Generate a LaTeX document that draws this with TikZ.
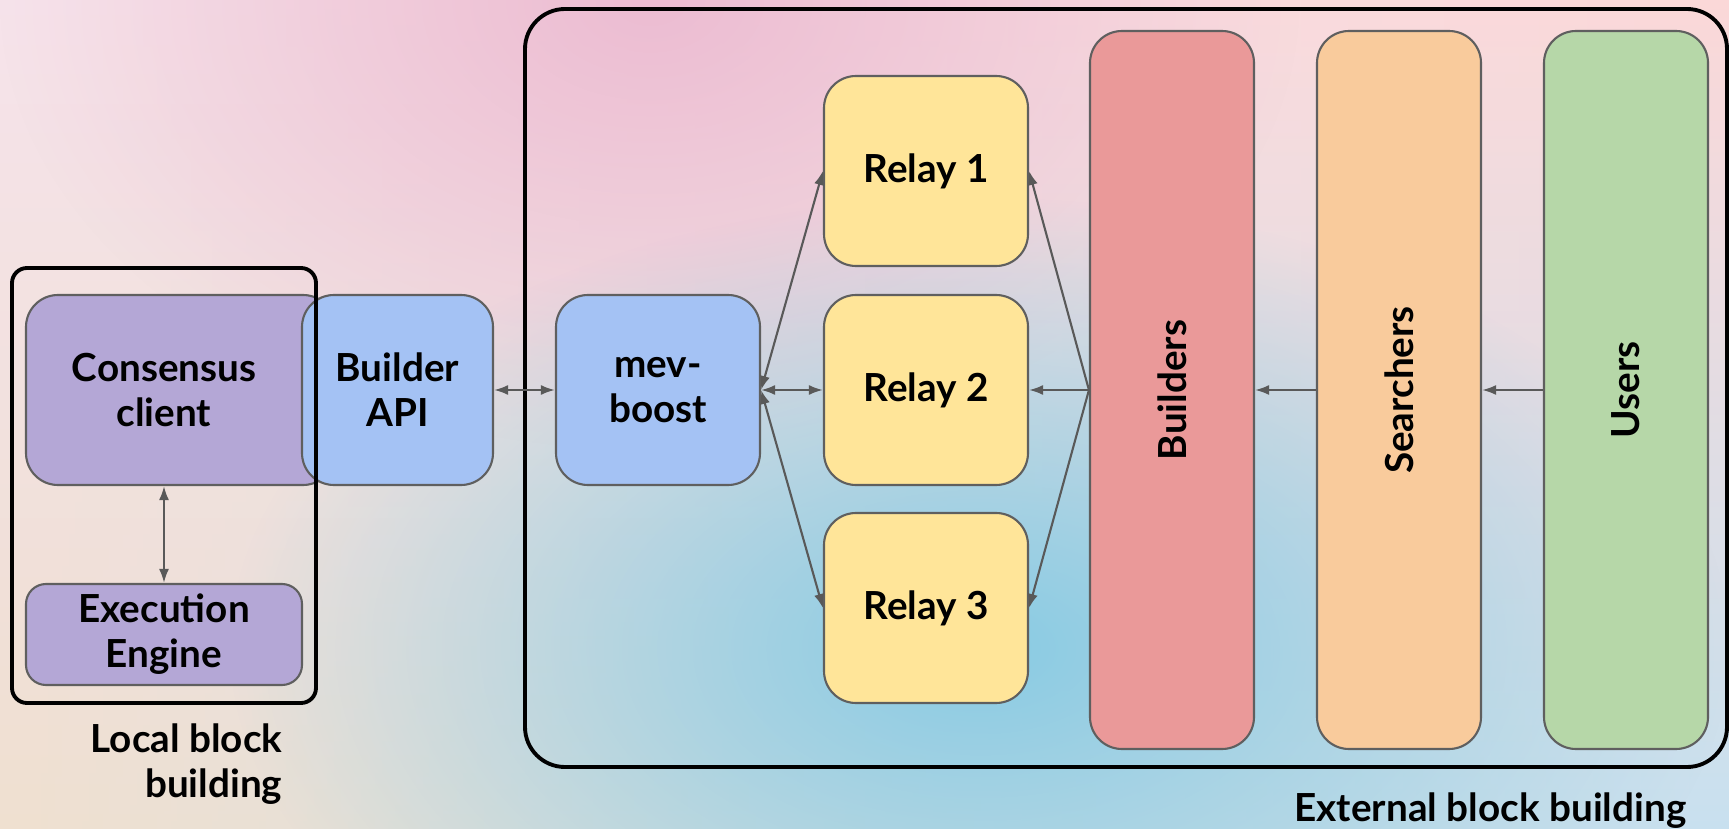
\documentclass[tikz,border=0pt]{standalone}
\usepackage{fontspec}
\setmainfont{Lato}
\usetikzlibrary{positioning,arrows.meta,fadings}

\definecolor{edgegray}{RGB}{95,95,95}
\definecolor{arrowgray}{RGB}{89,89,89}
\definecolor{purplebox}{RGB}{180,167,214}
\definecolor{bluebox}{RGB}{164,194,244}
\definecolor{yellowbox}{RGB}{255,229,153}
\definecolor{redbox}{RGB}{234,153,153}
\definecolor{orangebox}{RGB}{249,203,156}
\definecolor{greenbox}{RGB}{182,215,168}
\definecolor{bgtl}{RGB}{246,228,236}
\definecolor{bgbl}{RGB}{240,224,208}
\definecolor{bgtr}{RGB}{252,216,216}
\definecolor{bgbr}{RGB}{200,225,240}
\definecolor{bgpink}{RGB}{236,188,210}
\definecolor{bgteal}{RGB}{136,203,228}

\tikzfading[name=toright, left color=transparent!100, right color=transparent!0]
\tikzfading[name=blobfade, inner color=transparent!0, outer color=transparent!100]

\begin{document}
\begin{tikzpicture}[on grid,
    font=\fontsize{11}{12.8}\selectfont\bfseries,
    >={Latex[length=1.4mm,width=1mm]},
    block/.style={draw=edgegray,line width=0.6pt,rounded corners=3.2mm,
      align=center,inner sep=0pt,minimum width=2.04cm,minimum height=1.9cm},
    tall/.style={block,minimum width=1.64cm,minimum height=7.18cm},
    frame/.style={draw=black,line width=1.1pt,inner sep=0pt},
    caption/.style={inner sep=0pt},
    link/.style={draw=arrowgray,line width=0.6pt}]

  % background
  \useasboundingbox (0,0) rectangle (17.29,8.28);
  \shade[top color=bgtl,bottom color=bgbl] (0,0) rectangle (17.29,8.28);
  \shade[top color=bgtr,bottom color=bgbr,path fading=toright] (0,0) rectangle (17.29,8.28);
  \fill[bgpink,path fading=blobfade] (6.5,8.28) ellipse (6.5 and 4.5);
  \fill[bgteal,path fading=blobfade] (9.8,1.8) ellipse (7.5 and 4.5);

  % local block building
  \node[block,fill=purplebox,minimum width=3.09cm] (cons) at (1.805,4.38)
    {Consensus\hspace*{3.3mm}\\client\hspace*{3.3mm}};
  \node[block,fill=bluebox,minimum width=1.91cm] (api) [right=2.17cm of cons] {Builder\\API};
  \node[block,fill=purplebox,minimum width=2.76cm,minimum height=1.01cm,rounded corners=2mm] (exec) at (1.64,1.935) {Execution\\Engine};

  % external block building
  \node[block,fill=bluebox] (mev) [right=2.605cm of api] {mev-\\boost};
  \node[block,fill=yellowbox] (relay_2) [right=2.68cm of mev] {Relay 2};
  \node[block,fill=yellowbox] (relay_1) [above=2.19cm of relay_2] {Relay 1};
  \node[block,fill=yellowbox] (relay_3) [below=2.18cm of relay_2] {Relay 3};
  \node[tall,fill=redbox] (builders) [right=2.46cm of relay_2] {\rotatebox{90}{Builders}};
  \node[tall,fill=orangebox] (searchers) [right=2.27cm of builders] {\rotatebox{90}{Searchers}};
  \node[tall,fill=greenbox] (users) [right=2.27cm of searchers] {\rotatebox{90}{Users}};

  \node[frame,rounded corners=1.5mm,minimum width=3.04cm,minimum height=4.35cm] (local) at (1.64,3.425) {};
  \node[frame,rounded corners=4mm,minimum width=12.02cm,minimum height=7.58cm] (external) at (11.26,4.40) {};
  \node[caption,anchor=east,align=right] (local_label) at (2.83,0.64) {Local block\\building};
  \node[caption,anchor=base east] (external_label) at (16.87,0.07) {External block building};

  \draw[link,<->] (exec) -- (exec |- cons.south);
  \draw[link,<->] (api) -- (mev);
  \draw[link,<->] (mev.east) -- (relay_1.west);
  \draw[link,<->] (mev.east) -- (relay_2.west);
  \draw[link,<->] (mev.east) -- (relay_3.west);
  \draw[link,->] (builders.west) -- (relay_1.east);
  \draw[link,->] (builders.west) -- (relay_2.east);
  \draw[link,->] (builders.west) -- (relay_3.east);
  \draw[link,->] (searchers) -- (builders);
  \draw[link,->] (users) -- (searchers);
\end{tikzpicture}
\end{document}
